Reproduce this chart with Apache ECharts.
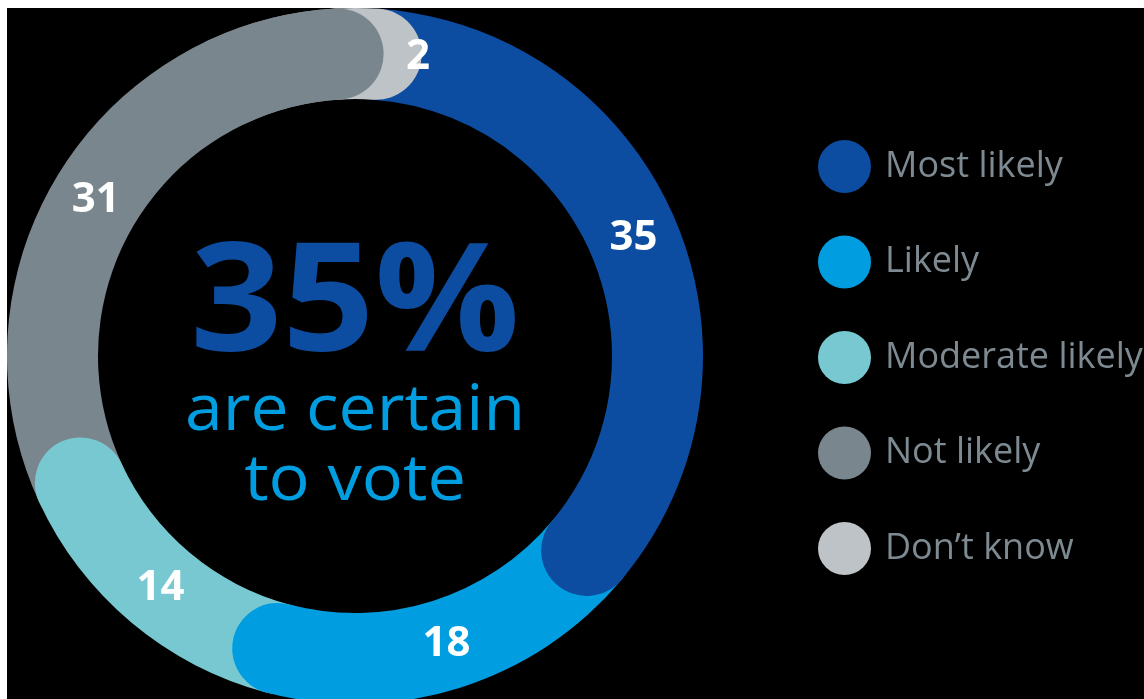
<!DOCTYPE html>
<html><head><meta charset="utf-8">
<script src="https://cdn.jsdelivr.net/npm/echarts@6/dist/echarts.min.js"></script>
<style>
html,body{margin:0;padding:0;background:#fff;width:1144px;height:699px;overflow:hidden}
#c{position:absolute;left:7px;top:8px;width:1137px;height:691px;background:#000}
</style></head><body><div id="c"></div>
<script>
const categories = ['Most likely', 'Likely', 'Moderate likely', 'Not likely', 'Don\u2019t know'];
const values = [35, 18, 14, 31, 2];
const colors = ['#0c4ca1', '#009ee0', '#77c8d0', '#7a868d', '#bdc3c6'];
const headline = '35%';
const subline = ['are certain', 'to vote'];

const chart = echarts.init(document.getElementById('c'));

// painter's order so each segment's rounded end overlaps the next one
const zOf = [5, 4, 3, 2, 6];
const labelBase = {show: true, position: 'middle', rotate: 0, formatter: '{c}', color: '#fff',
  fontFamily: 'Open Sans', fontWeight: 'bold', fontSize: 42};
const common = {type: 'bar', coordinateSystem: 'polar', roundCap: true,
  barWidth: '100%', barCategoryGap: '0%', emphasis: {disabled: true}, silent: true};

const series = categories.map((name, i) => Object.assign({}, common, {
  name, stack: 'ring', polarIndex: 0, data: [values[i]], z: zOf[i],
  itemStyle: {color: colors[i]},
  label: Object.assign({}, labelBase, i === 4 ? {offset: [61, 4]} : {})
}));

// closing piece of "Not likely" drawn on top so its rounded end covers "Don't know"
const tail = 6;
const beforeLast = values.slice(0, 4).reduce((a, b) => a + b, 0);
series.push(Object.assign({}, common, {name: 'base', stack: 'cap', polarIndex: 1, roundCap: false,
  data: [beforeLast - tail], z: 1, itemStyle: {color: 'rgba(0,0,0,0)'}, label: {show: false}}));
series.push(Object.assign({}, common, {name: 'Not likely', stack: 'cap', polarIndex: 1,
  data: [tail], z: 7, itemStyle: {color: colors[3]}, label: {show: false}}));

const polarCfg = {center: [348, 348], radius: [257, 348]};
const angleCfg = {type: 'value', min: 0, max: 100, startAngle: 86, clockwise: true, show: false};
const radiusCfg = {type: 'category', data: ['ring'], show: false};

chart.setOption({
  backgroundColor: '#000',
  animation: false,
  polar: [polarCfg, polarCfg],
  angleAxis: [Object.assign({polarIndex: 0}, angleCfg), Object.assign({polarIndex: 1}, angleCfg)],
  radiusAxis: [Object.assign({polarIndex: 0}, radiusCfg), Object.assign({polarIndex: 1}, radiusCfg)],
  legend: {
    data: categories, orient: 'vertical', left: 811, top: 132, padding: 0,
    itemWidth: 53, itemHeight: 53, itemGap: 42.5, icon: 'circle', selectedMode: false,
    textStyle: {color: '#7e8a91', fontSize: 36, fontFamily: 'Open Sans', padding: [0, 0, 0, 9]}
  },
  graphic: [
    {type: 'text', x: 348, y: 300, scaleX: 1.075, silent: true,
     style: {text: headline, fill: '#0c4ca1', fontSize: 150, fontWeight: 'bold', fontFamily: 'Open Sans',
       align: 'center', verticalAlign: 'middle'}},
    {type: 'text', x: 348, y: 404, scaleX: 1.06, silent: true,
     style: {text: subline[0], fill: '#009ee0', fontSize: 64, fontFamily: 'Open Sans',
       align: 'center', verticalAlign: 'middle'}},
    {type: 'text', x: 348, y: 474, scaleX: 1.07, silent: true,
     style: {text: subline[1], fill: '#009ee0', fontSize: 64, fontFamily: 'Open Sans',
       align: 'center', verticalAlign: 'middle'}}
  ],
  series
});
</script></body></html>
